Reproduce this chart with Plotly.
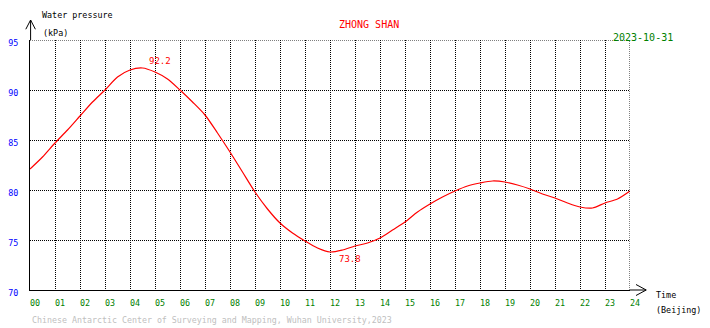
import plotly.graph_objects as go

# Half-hourly water pressure readings (kPa), Beijing time
hours = [0, 0.5, 1, 1.5, 2, 2.5, 3, 3.5, 4, 4.5, 5, 5.5, 6, 6.5, 7, 7.5, 8, 8.5,
         9, 9.5, 10, 10.5, 11, 11.5, 12, 12.5, 13, 13.5, 14, 14.5, 15, 15.5, 16,
         16.5, 17, 17.5, 18, 18.5, 19, 19.5, 20, 20.5, 21, 21.5, 22, 22.5, 23,
         23.5, 24]
pressure = [82.1, 83.3, 84.7, 86.0, 87.4, 88.8, 90.0, 91.3, 92.0, 92.2, 91.8,
            91.1, 90.0, 88.8, 87.5, 85.7, 83.8, 81.8, 79.8, 78.1, 76.7, 75.7,
            74.9, 74.2, 73.8, 74.0, 74.4, 74.7, 75.2, 76.0, 76.8, 77.8, 78.6,
            79.3, 79.9, 80.4, 80.7, 80.9, 80.8, 80.5, 80.1, 79.6, 79.2, 78.7,
            78.3, 78.2, 78.7, 79.1, 79.9]

x_ticks = list(range(0, 25))
x_tick_labels = [f"{h:02d}" for h in x_ticks]
y_ticks = [70, 75, 80, 85, 90, 95]

peak_time, peak_value = 4.5, 92.2
low_time, low_value = 12, 73.8

station = "ZHONG SHAN"
date_text = "2023-10-31"
credit = "Chinese Antarctic Center of Surveying and Mapping, Wuhan University,2023"

MONO = "DejaVu Sans Mono"
GRID_DASH = "1px,1px"

fig = go.Figure()
fig.add_trace(go.Scatter(
    x=hours, y=pressure, mode="lines",
    line=dict(color="#ff0000", width=1.2, shape="spline", smoothing=0.8),
    hoverinfo="skip", showlegend=False,
))

# extreme value labels
fig.add_annotation(x=peak_time, y=peak_value, text=f"{peak_value}", showarrow=False,
                   xanchor="left", yanchor="bottom", xshift=4, yshift=0,
                   font=dict(family=MONO, size=9, color="#ff0000"))
fig.add_annotation(x=low_time, y=low_value, text=f"{low_value}", showarrow=False,
                   xanchor="left", yanchor="top", xshift=7, yshift=0,
                   font=dict(family=MONO, size=9, color="#ff0000"))

small = dict(family=MONO, size=8.4, color="#000000")

texts = [
    dict(x=0.0167, y=1.1, text="Water pressure", xanchor="left", yanchor="middle", font=small),
    dict(x=0.0183, y=1.028, text="(kPa)", xanchor="left", yanchor="middle", font=small),
    dict(x=0.565, y=1.06, text=station, xanchor="center", yanchor="middle",
         font=dict(family=MONO, size=10, color="#ff0000")),
    dict(x=0.969, y=1.012, text=date_text, xanchor="left", yanchor="middle",
         font=dict(family=MONO, size=10, color="#008000")),
    dict(x=1.04, y=-0.018, text="Time", xanchor="left", yanchor="middle", font=small),
    dict(x=1.04, y=-0.08, text="(Beijing)", xanchor="left", yanchor="middle", font=small),
    dict(x=0.0, y=-0.12, text=credit, xanchor="left", yanchor="middle",
         font=dict(family=MONO, size=8.3, color="#c0c0c0")),
]
for t in texts:
    fig.add_annotation(xref="paper", yref="paper", showarrow=False, **t)

# dotted frame lines along the top and right edges
edge = dict(type="line", line=dict(color="#000000", width=1, dash=GRID_DASH))
fig.add_shape(xref="paper", yref="y", x0=0, x1=1, y0=y_ticks[-1], y1=y_ticks[-1], **edge)
fig.add_shape(xref="x", yref="paper", x0=x_ticks[-1], x1=x_ticks[-1], y0=0, y1=1, **edge)

# axis arrows
arrow = dict(type="line", xref="paper", yref="paper", line=dict(color="#000000", width=1))
fig.add_shape(x0=0.001, y0=1.0, x1=0.001, y1=1.08, **arrow)
fig.add_shape(x0=0.001, y0=1.08, x1=-0.007, y1=1.043, **arrow)
fig.add_shape(x0=0.001, y0=1.08, x1=0.009, y1=1.043, **arrow)
fig.add_shape(x0=1.0, y0=0.0, x1=1.027, y1=0.0, **arrow)
fig.add_shape(x0=1.027, y0=0.0, x1=1.01, y1=0.022, **arrow)
fig.add_shape(x0=1.027, y0=0.0, x1=1.01, y1=-0.022, **arrow)

fig.update_xaxes(
    range=[0, 24], tickvals=x_ticks, ticktext=x_tick_labels, automargin=False,
    showgrid=True, gridcolor="#000000", gridwidth=1, griddash=GRID_DASH,
    showline=True, linecolor="#000000", linewidth=1, zeroline=False,
    ticks="", ticklabelshift=5, ticklabelstandoff=5,
    tickfont=dict(family=MONO, size=8.4, color="#008000"),
)
fig.update_yaxes(
    range=[70, 95], tickvals=y_ticks, automargin=False,
    showgrid=True, gridcolor="#000000", gridwidth=1, griddash=GRID_DASH,
    showline=True, linecolor="#000000", linewidth=1, zeroline=False,
    ticks="", ticklabelshift=3, ticklabelstandoff=9,
    tickfont=dict(family=MONO, size=8.4, color="#0000ff"),
)

fig.update_layout(
    width=710, height=328,
    margin=dict(l=30, r=80, t=40, b=38),
    paper_bgcolor="#ffffff", plot_bgcolor="#ffffff",
    showlegend=False,
)

fig.write_html("out.html")
